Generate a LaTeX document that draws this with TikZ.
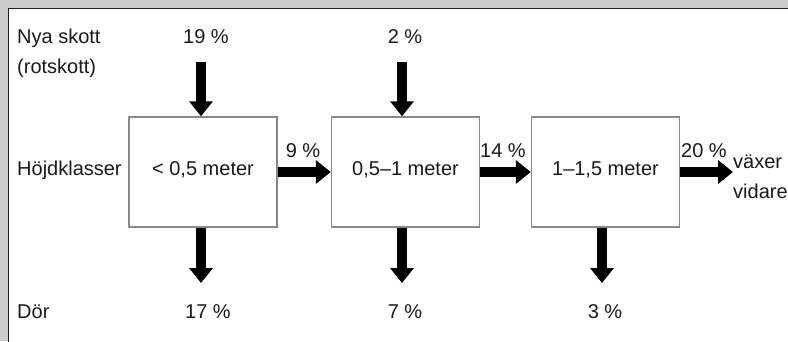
\documentclass[tikz,border=0pt]{standalone}
\usepackage{fontspec}
\setmainfont{Liberation Sans}
\usepackage{tikz}
\usetikzlibrary{arrows.meta, positioning}
\definecolor{bggray}{HTML}{CCCCCC}
\definecolor{boxgray}{HTML}{888888}
\definecolor{ink}{HTML}{1A1A1A}
\tikzstyle{box} = [rectangle, draw=boxgray, line width=1.5pt, fill=white, minimum width=148pt, minimum height=110pt, inner sep=0pt, text height=15pt, text depth=9pt]
\tikzstyle{flow} = [draw=black, line width=10pt, -{Triangle[width=23pt,length=15pt]}]
\tikzstyle{lbl} = [inner sep=0pt, anchor=base west]
\tikzstyle{pct} = [inner sep=0pt, anchor=base]

\begin{document}
\begin{tikzpicture}[x=1pt, y=-1pt, every node/.style={text=ink, font=\fontsize{20}{24}\selectfont}]
			\useasboundingbox (0,0) rectangle (788,341);
			\fill [bggray] (0,0) rectangle (788,341);
			\draw [fill=white, draw=ink, line width=1.5pt] (8.5,8.5) rectangle (800,360);

			% height classes
			\node [box] (b1) at (203, 172) {< 0,5 meter};
			\node [box] (b2) at (405.5, 172) {0,5--1 meter};
			\node [box] (b3) at (605.5, 172) {1--1,5 meter};

			% row labels
			\node [lbl] (nya) at (17, 43) {Nya skott};
			\node [lbl] (rot) at (17, 73) {(rotskott)};
			\node [lbl] (hojd) at (17, 175) {Höjdklasser};
			\node [lbl] (dor) at (17, 318) {Dör};

			% new shoots
			\node [pct] (p19) at (206, 43) {19 \%};
			\node [pct] (p2) at (405, 43) {2 \%};
			\coordinate (in1) at (201, 62);
			\coordinate (in2) at (402, 62);
			\path [flow] (in1) -- (in1 |- b1.north);
			\path [flow] (in2) -- (in2 |- b2.north);

			% growth to next class
			\node [pct] (p9) at (303, 157) {9 \%};
			\node [pct] (p14) at (503, 157) {14 \%};
			\node [pct] (p20) at (704, 157) {20 \%};
			\coordinate (out) at (733, 172);
			\node [lbl] (vax) at (733, 168) {växer};
			\node [lbl] (vid) at (733, 198) {vidare};
			\path [flow] (b1.east) -- (b2.west);
			\path [flow] (b2.east) -- (b3.west);
			\path [flow] (b3.east) -- (out);

			% dying
			\coordinate (d1) at (201, 283);
			\coordinate (d2) at (402, 283);
			\coordinate (d3) at (602, 283);
			\path [flow] (d1 |- b1.south) -- (d1);
			\path [flow] (d2 |- b2.south) -- (d2);
			\path [flow] (d3 |- b3.south) -- (d3);
			\node [pct] (p17) at (208, 318) {17 \%};
			\node [pct] (p7) at (405, 318) {7 \%};
			\node [pct] (p3) at (605, 318) {3 \%};
		\end{tikzpicture}
\end{document}
